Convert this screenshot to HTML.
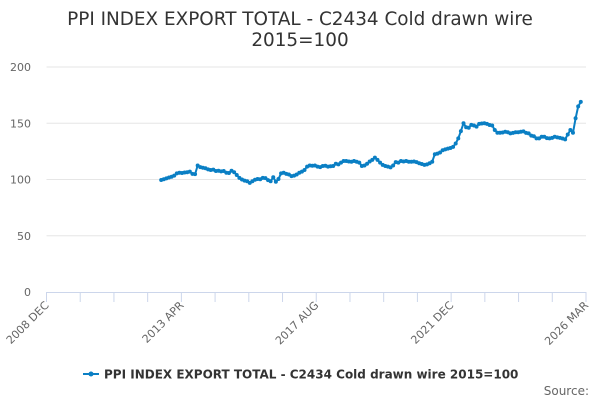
<!DOCTYPE html>
<html><head><meta charset="utf-8"><style>
body{margin:0;background:#fff;}
svg{display:block;font-family:"DejaVu Sans","Liberation Sans",sans-serif;}
</style></head><body>
<svg id="chart" width="600" height="400">
<text x="300" y="25" text-anchor="middle" font-size="18.4" fill="#333">PPI INDEX EXPORT TOTAL - C2434 Cold drawn wire</text>
<text x="300" y="46" text-anchor="middle" font-size="18.4" fill="#333">2015=100</text>
<g id="grid"></g><g id="axes"></g><g id="series"></g>
<g>
<line x1="83" y1="374" x2="99" y2="374" stroke="#0a7fc4" stroke-width="2"/>
<circle cx="91" cy="374" r="2.5" fill="#0a7fc4"/>
<text x="104" y="378.5" font-size="12" font-weight="bold" fill="#333">PPI INDEX EXPORT TOTAL - C2434 Cold drawn wire 2015=100</text>
</g>
<text x="589" y="395" text-anchor="end" font-size="12" fill="#666">Source:</text>
</svg>
<script>
const yTicks=[0,50,100,150,200];
const xTickLabels=["2008 DEC","2013 APR","2017 AUG","2021 DEC","2026 MAR"];
const startMonth=44; // months after 2008 DEC (2012 AUG)
const values=[99.6,100.2,101,101.8,102.5,103.5,105.5,106,105.8,106.2,
106.4,107,105,104.8,112.5,111,110.5,110,109,108.4,
108.8,107.6,107.8,107.2,107.6,106,105.8,107.8,106.5,104,
101.5,100,99,98.5,97,98.5,99.8,100.5,100.2,101.5,
101.2,99.5,98.5,102,98,100.5,105.5,106,105,104.5,
103,103.5,104.5,106,107,108.5,111.5,112.5,112.2,112.5,
111.5,111,112,112.2,111.5,111.8,112,114,113.5,115,
116.5,116.5,116,115.8,116.5,115.8,115,112,112.5,114,
116,117.5,119.5,117.5,115,113,112,111.5,110.8,112.5,
115.5,115,116.5,116,116.5,115.8,115.8,116,115.5,114.5,
113.8,113,113.5,114.5,115.8,122.5,123,124,126,126.8,
127.5,128,129,132,136.6,143,150,146.5,146,148.6,
148,147,149.5,149.8,150,149.5,148.5,148,144,141.6,
141.6,141.8,142.5,142,141,141.5,142,142,142.5,142.8,
141.5,141,139,138.5,136.6,136.6,138,138,136.8,136.6,
137,138,137.5,137,136.5,135.7,140,144,141.6,154.4,165,169];
const NS="http://www.w3.org/2000/svg";
const X0=46.5,X1=586,TOTAL=207,Y0=292,Y1=67,YMAX=200;
const xs=m=>X0+(X1-X0)*m/TOTAL;
const ys=v=>Y0-(Y0-Y1)*v/YMAX;
function mk(tag,attrs,parent){const e=document.createElementNS(NS,tag);for(const k in attrs)e.setAttribute(k,attrs[k]);parent.appendChild(e);return e;}
const grid=document.getElementById('grid'),axes=document.getElementById('axes'),ser=document.getElementById('series');
yTicks.forEach(t=>{
 if(t>0){const l=mk('line',{x1:X0,x2:X1,y1:ys(t),y2:ys(t),stroke:'#e6e6e6','stroke-width':1},grid);
 
 }
 const tx=mk('text',{x:31,y:ys(t)+4,'text-anchor':'end','font-size':11,fill:'#666'},axes);
 tx.textContent=t;
 
 
});
const ax=mk('line',{x1:X0,x2:X1,y1:Y0+0.5,y2:Y0+0.5,stroke:'#ccd6eb','stroke-width':1},axes);


for(let k=0;k<=16;k++){
 const x=X0+(X1-X0)*k/16;
 const tk=mk('line',{x1:x,x2:x,y1:Y0,y2:Y0+10,stroke:'#ccd6eb','stroke-width':1},axes);
 
 
}
xTickLabels.forEach((lab,i)=>{
 const x=X0+(X1-X0)*i/4;
 const t=mk('text',{x:x+3,y:Y0+14,'text-anchor':'end','font-size':11,fill:'#666',transform:`rotate(-45 ${x+3} ${Y0+14})`},axes);
 t.textContent=lab;
 
 
});
const pts=values.map((v,i)=>[xs(startMonth+i),ys(v)]);
const p=mk('path',{d:'M'+pts.map(q=>q[0].toFixed(1)+','+q[1].toFixed(1)).join('L'),fill:'none',stroke:'#0a7fc4','stroke-width':2,'stroke-linejoin':'round'},ser);


pts.forEach(q=>{
 const c=mk('circle',{cx:q[0],cy:q[1],r:2,fill:'#0a7fc4'},ser);
 
 
});
</script>
</body></html>
